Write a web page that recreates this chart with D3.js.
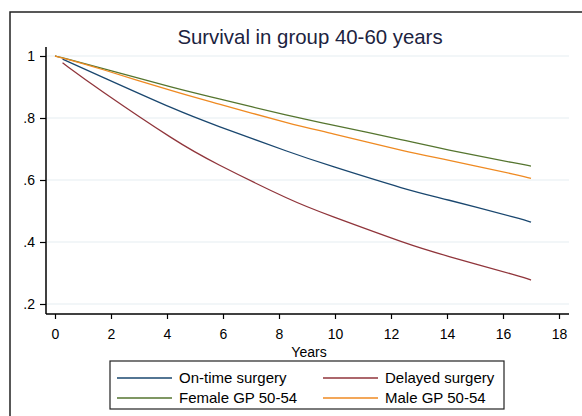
<!DOCTYPE html>
<html>
<head>
<meta charset="utf-8">
<script src="https://cdn.jsdelivr.net/npm/d3@7"></script>
<style>
  html, body { margin: 0; padding: 0; background: #fff; }
  svg { display: block; font-family: "Liberation Sans", Arial, sans-serif; }
</style>
</head>
<body>
<svg id="chart" width="582" height="416"></svg>
<script>
// ---- data ----
const title = "Survival in group 40-60 years";
const xLabel = "Years";
const xTicks = [0, 2, 4, 6, 8, 10, 12, 14, 16, 18];
const yTicks = [0.2, 0.4, 0.6, 0.8, 1];
const yTickLabels = [".2", ".4", ".6", ".8", "1"];

const years    = [0,    0.27,  1.45,  4.46,  5.54,  8.57,  9.64,  12.68, 13.75, 16.79, 17.0];
const onTime   = [null, 0.99,  0.942, 0.820, 0.783, 0.683, 0.651, 0.565, 0.543, 0.471, 0.464];
const delayed  = [null, 0.978, 0.899, 0.716, 0.662, 0.527, 0.491, 0.390, 0.361, 0.285, 0.277];
const femaleGP = [1,    0.995, 0.966, 0.892, 0.869, 0.802, 0.783, 0.724, 0.702, 0.648, 0.645];
const maleGP   = [1,    0.994, 0.964, 0.879, 0.853, 0.777, 0.756, 0.688, 0.670, 0.611, 0.605];

const seriesNames = ["On-time surgery", "Delayed surgery", "Female GP 50-54", "Male GP 50-54"];
const seriesValues = [onTime, delayed, femaleGP, maleGP];
const seriesColors = ["#1a476f", "#90353b", "#55752f", "#ef8a22"];

// ---- layout ----
const svg = d3.select("#chart");
const x = d3.scaleLinear().domain([0, 18]).range([55, 559]);
const y = d3.scaleLinear().domain([0.2, 1]).range([304, 56]);
const axisLeftX = 46, axisBottomY = 314, plotRight = 569, plotTop = 47;

// outer frame
svg.append("rect").attr("x", 10).attr("y", 12).attr("width", 600).attr("height", 420)
  .attr("fill", "none").attr("stroke", "#222").attr("stroke-width", 1.5);

// title
svg.append("text").attr("x", 310).attr("y", 44).attr("text-anchor", "middle")
  .attr("font-size", "20.4px").attr("fill", "#1c2340").text(title);

// gridlines
svg.append("g").selectAll("line").data(yTicks).join("line")
  .attr("x1", axisLeftX + 1).attr("x2", plotRight)
  .attr("y1", d => y(d)).attr("y2", d => y(d))
  .attr("stroke", "#e6eef2").attr("stroke-width", 1.2);

// y axis
const yAxis = d3.axisLeft(y).tickValues(yTicks)
  .tickFormat((d, i) => yTickLabels[i]).tickSize(6).tickPadding(5);
const gy = svg.append("g").attr("transform", `translate(${axisLeftX},0)`).call(yAxis);
gy.select(".domain").remove();
gy.append("line").attr("x1", 0).attr("x2", 0).attr("y1", plotTop).attr("y2", axisBottomY)
  .attr("stroke", "#000").attr("stroke-width", 1.5);
gy.selectAll(".tick line").attr("stroke", "#000").attr("stroke-width", 1.2);
gy.selectAll(".tick text").attr("font-size", "14px").attr("fill", "#000")
  .attr("font-family", "Liberation Sans, Arial, sans-serif");

// x axis
const xAxis = d3.axisBottom(x).tickValues(xTicks).tickFormat(d3.format("d"))
  .tickSize(5).tickPadding(10);
const gx = svg.append("g").attr("transform", `translate(0,${axisBottomY})`).call(xAxis);
gx.select(".domain").remove();
gx.append("line").attr("x1", axisLeftX).attr("x2", plotRight).attr("y1", 0).attr("y2", 0)
  .attr("stroke", "#000").attr("stroke-width", 1.5);
gx.selectAll(".tick line").attr("stroke", "#000").attr("stroke-width", 1.2);
gx.selectAll(".tick text").attr("font-size", "14px").attr("fill", "#000")
  .attr("font-family", "Liberation Sans, Arial, sans-serif");

svg.append("text").attr("x", 309).attr("y", 357).attr("text-anchor", "middle")
  .attr("font-size", "14px").attr("fill", "#000").text(xLabel);

// lines
const line = d3.line()
  .defined(d => d[1] !== null)
  .x(d => x(d[0])).y(d => y(d[1]))
  .curve(d3.curveBasis);

seriesValues.forEach((vals, i) => {
  const pts = years.map((t, j) => [t, vals[j]]).filter(d => d[1] !== null);
  svg.append("path").datum(pts)
    .attr("d", line)
    .attr("fill", "none")
    .attr("stroke", seriesColors[i])
    .attr("stroke-width", 1.3);
});

// legend
const lg = svg.append("g");
lg.append("rect").attr("x", 110).attr("y", 361).attr("width", 394).attr("height", 48)
  .attr("fill", "#fff").attr("stroke", "#222").attr("stroke-width", 1.2);
const legendPos = [[117, 378], [323, 378], [117, 398], [323, 398]];
seriesNames.forEach((name, i) => {
  const [lx, ly] = legendPos[i];
  lg.append("line").attr("x1", lx).attr("x2", lx + 55).attr("y1", ly).attr("y2", ly)
    .attr("stroke", seriesColors[i]).attr("stroke-width", 1.3);
  lg.append("text").attr("x", lx + 62).attr("y", ly + 5)
    .attr("font-size", "15px").attr("fill", "#000").text(name);
});
</script>
</body>
</html>
